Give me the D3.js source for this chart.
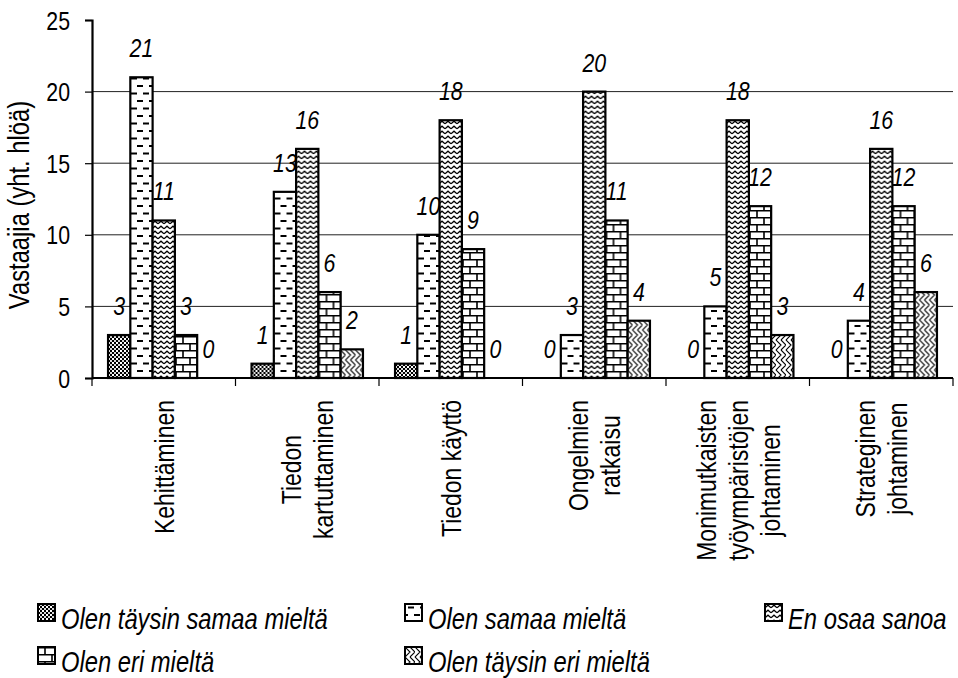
<!DOCTYPE html>
<html>
<head>
<meta charset="utf-8">
<script src="https://cdn.jsdelivr.net/npm/d3@7/dist/d3.min.js"></script>
<style>
  html, body { margin: 0; padding: 0; background: #fff; }
  svg { display: block; }
  text { font-family: "Liberation Sans", Arial, sans-serif; fill: #000; }
</style>
</head>
<body>
<svg id="chart" width="958" height="678"></svg>
<script>
// Categories (line breaks as shown under the axis)
const categories = [
  ["Kehittäminen"],
  ["Tiedon", "kartuttaminen"],
  ["Tiedon käyttö"],
  ["Ongelmien", "ratkaisu"],
  ["Monimutkaisten", "työympäristöjen", "johtaminen"],
  ["Strateginen", "johtaminen"]
];
const seriesNames = [
  "Olen täysin samaa mieltä",
  "Olen samaa mieltä",
  "En osaa sanoa",
  "Olen eri mieltä",
  "Olen täysin eri mieltä"
];
const taysinSamaa = [3, 1, 1, 0, 0, 0];
const samaa       = [21, 13, 10, 3, 5, 4];
const enOsaa      = [11, 16, 18, 20, 18, 16];
const eri         = [3, 6, 9, 11, 12, 12];
const taysinEri   = [0, 2, 0, 4, 3, 6];
const yTicks = [0, 5, 10, 15, 20, 25];
const yTitle = "Vastaajia (yht. hlöä)";

const seriesValues = [taysinSamaa, samaa, enOsaa, eri, taysinEri];

const svg = d3.select("#chart");
const plotLeft = 92, plotRight = 953, plotTop = 20, plotBottom = 378;
const NARROW = 0.82; // condensed lettering

// text helper: positioned, optionally rotated, horizontally condensed
function ntext(parent, x, y, rot, str, size, anchor, italic) {
  return parent.append("text")
    .attr("transform", `translate(${x},${y}) rotate(${rot}) scale(${NARROW},1)`)
    .attr("text-anchor", anchor)
    .attr("font-size", size)
    .attr("font-style", italic ? "italic" : "normal")
    .text(str);
}

// Fill patterns for each response series
const defs = svg.append("defs");
function pattern(id, w, h, build) {
  const p = defs.append("pattern").attr("id", id)
    .attr("patternUnits", "userSpaceOnUse").attr("width", w).attr("height", h);
  p.append("rect").attr("width", w).attr("height", h).attr("fill", "#fff");
  build(p);
}
// dotted checker grid
pattern("p0", 4, 4, p => {
  p.append("rect").attr("width", 2).attr("height", 2).attr("fill", "#000");
  p.append("rect").attr("x", 2).attr("y", 2).attr("width", 2).attr("height", 2).attr("fill", "#000");
  p.append("rect").attr("x", 2.6).attr("y", 0.6).attr("width", 0.8).attr("height", 0.8).attr("fill", "#000");
});
// staggered horizontal dashes
pattern("p1", 12, 15, p => {
  p.append("path").attr("d", "M3,3.5H9M-3,11H3M9,11H15")
    .attr("stroke", "#000").attr("stroke-width", 2);
});
// zigzag waves
pattern("p2", 6, 5, p => {
  p.append("path").attr("d", "M0,3.8L3,1.2L6,3.8")
    .attr("stroke", "#000").attr("stroke-width", 1.3).attr("fill", "none");
});
// brick
pattern("p3", 14, 14, p => {
  p.append("path").attr("d", "M0,0.75H14M0,7.75H14M7,0V7M0,7V14M14,7V14")
    .attr("stroke", "#000").attr("stroke-width", 1.6).attr("fill", "none");
});
// herringbone weave
pattern("p4", 10, 10, p => {
  p.append("path").attr("d", "M0,0L5,5L0,10M5,0L10,5L5,10M5,-5L10,0M5,15L10,10")
    .attr("stroke", "#000").attr("stroke-width", 1.1).attr("fill", "none");
});

const x0 = d3.scaleBand().domain(d3.range(categories.length)).range([plotLeft, plotRight]).padding(0);
const x1 = d3.scaleBand().domain(d3.range(seriesNames.length))
  .range([0, x0.bandwidth()]).paddingInner(0).paddingOuter(0.72);
const y = d3.scaleLinear().domain([0, 25]).range([plotBottom, plotTop]);

// horizontal gridlines
svg.append("g").selectAll("line").data(yTicks.filter(t => t > 0 && t < 25)).join("line")
  .attr("x1", plotLeft).attr("x2", plotRight)
  .attr("y1", d => y(d)).attr("y2", d => y(d))
  .attr("stroke", "#222").attr("stroke-width", 1);

// bars with value labels
const groups = svg.append("g").selectAll("g").data(categories).join("g")
  .attr("transform", (d, i) => `translate(${x0(i)},0)`);
groups.each(function(_, ci) {
  const g = d3.select(this);
  seriesValues.forEach((vals, si) => {
    const v = vals[ci];
    if (v > 0) {
      g.append("rect")
        .attr("x", x1(si)).attr("width", x1.bandwidth())
        .attr("y", y(v)).attr("height", y(0) - y(v))
        .attr("fill", `url(#p${si})`)
        .attr("stroke", "#000").attr("stroke-width", 2.2);
    }
    ntext(g, x1(si) + x1.bandwidth() / 2, y(v) - 20, 0, v, 26, "middle", true);
  });
});

// y axis (line and ticks from d3, labels condensed)
const yAxis = d3.axisLeft(y).tickValues(yTicks).tickSize(7).tickFormat("");
const ya = svg.append("g").attr("transform", `translate(${plotLeft},0)`).call(yAxis);
ya.select(".domain").attr("stroke-width", 2.2);
ya.selectAll(".tick line").attr("stroke-width", 1.2);
yTicks.forEach(t => ntext(svg, plotLeft - 22, y(t) + 9.5, 0, t, 26, "end", false));

// x axis line and category separators
const xa = svg.append("g");
xa.append("line").attr("x1", plotLeft).attr("x2", plotRight).attr("y1", plotBottom).attr("y2", plotBottom)
  .attr("stroke", "#000").attr("stroke-width", 2.2);
const bounds = d3.range(categories.length + 1).map(i => i < categories.length ? x0(i) : plotRight);
xa.selectAll("line.sep").data(bounds).join("line").attr("class", "sep")
  .attr("x1", d => d).attr("x2", d => d).attr("y1", plotBottom).attr("y2", plotBottom + 8)
  .attr("stroke", "#000").attr("stroke-width", 1.2);

// rotated category labels: block anchored below the axis, lines centred
const lineH = 32, labelTop = 400, catFs = 28;
categories.forEach((lines, ci) => {
  const cx = x0(ci) + x0.bandwidth() / 2;
  const widths = lines.map(l => {
    const t = svg.append("text").attr("font-size", catFs).text(l);
    const w = t.node().getComputedTextLength() * NARROW;
    t.remove();
    return w;
  });
  const cy = labelTop + d3.max(widths) / 2;
  lines.forEach((l, li) => {
    const lx = cx + (li - (lines.length - 1) / 2) * lineH + 10;
    ntext(svg, lx, cy, -90, l, catFs, "middle", false);
  });
});

// y axis title
ntext(svg, 29, 205, -90, yTitle, 29, "middle", false);

// legend
const legendPos = [[38, 604], [405, 604], [765, 604], [38, 647], [405, 647]];
seriesNames.forEach((name, si) => {
  const [lx, ly] = legendPos[si];
  const g = svg.append("g").attr("transform", `translate(${lx},${ly})`);
  g.append("rect").attr("x", 0).attr("y", 0).attr("width", 17).attr("height", 17)
    .attr("fill", `url(#p${si})`).attr("stroke", "#000").attr("stroke-width", 2);
  ntext(g, 23, 25, 0, name, 29, "start", true);
});
</script>
</body>
</html>
